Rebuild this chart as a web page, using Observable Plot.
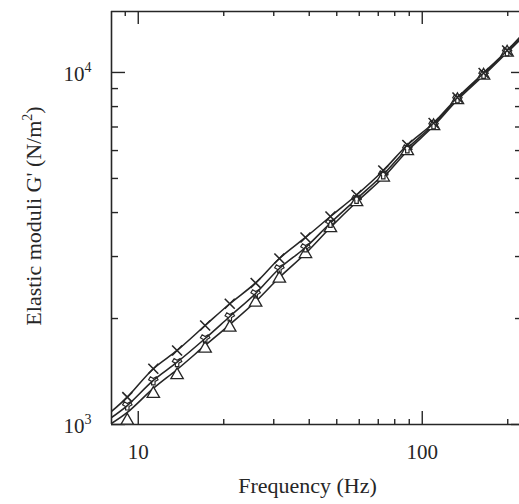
<!DOCTYPE html>
<html>
<head>
<meta charset="utf-8">
<script src="https://cdn.jsdelivr.net/npm/d3@7"></script>
<script src="https://cdn.jsdelivr.net/npm/@observablehq/plot@0.6"></script>
<style>
  html, body { margin: 0; padding: 0; background: #fff; }
  #chart svg { display: block; }
  #chart svg text { font-family: "Liberation Serif", "Times New Roman", "DejaVu Serif", serif; }
</style>
</head>
<body>
<div id="chart"></div>
<script>
// ---- data ----
const freq = [9.15, 11.3, 13.7, 17.2, 21.0, 25.9, 31.4, 38.8, 47.5, 58.7, 72.9, 88.6, 109.6, 133, 164.4, 199];
const gCross = [1196, 1440, 1623, 1911, 2203, 2524, 2962, 3398, 3898, 4487, 5268, 6223, 7185, 8490, 9967, 11548];
const gWye   = [1132, 1334, 1503, 1755, 2027, 2356, 2774, 3183, 3736, 4371, 5132, 6083, 7115, 8435, 9902, 11474];
const gTri   = [1026, 1223, 1382, 1644, 1886, 2221, 2599, 3051, 3616, 4286, 5032, 5984, 7046, 8353, 9806, 11398];

const lineFreq = [8.05, 9.15, 11.3, 13.7, 17.2, 21.0, 25.9, 31.4, 38.8, 47.5, 58.7, 72.9, 88.6, 109.6, 133, 164.4, 199, 220];
const lineTop = [1089, 1196, 1440, 1623, 1911, 2203, 2524, 2962, 3398, 3898, 4487, 5268, 6223, 7185, 8490, 9967, 11548, 12573];
const lineMid = [1047, 1132, 1334, 1503, 1755, 2027, 2356, 2774, 3183, 3736, 4371, 5132, 6083, 7115, 8435, 9902, 11474, 12452];
const lineBot = [1007, 1082, 1266, 1433, 1677, 1923, 2236, 2616, 3061, 3628, 4286, 5032, 5984, 7046, 8353, 9806, 11398, 12330];

const xDomain = [8.05, 220];
const yDomain = [1000, 14900];
const xMajor = [10, 100];
const xMinor = [9, 20, 30, 40, 50, 60, 70, 80, 90, 200];
const yMajor = [1000, 10000];
const yMinor = [2000, 3000, 4000, 5000, 6000, 7000, 8000, 9000];
const xTickLabels = ["10", "100"];
const yTickLabels = ["10^3", "10^4"];
const xTitle = "Frequency (Hz)";
const yTitle = "Elastic moduli G' (N/m^2)";

// ---- build tables ----
const markerRows = (vals, series) => freq.map((f, i) => ({f, g: vals[i], series}));
const lineRows = [
  ...lineFreq.map((f, i) => ({f, g: lineTop[i], series: "top"})),
  ...lineFreq.map((f, i) => ({f, g: lineMid[i], series: "mid"})),
  ...lineFreq.map((f, i) => ({f, g: lineBot[i], series: "bot"}))
];

const ink = "#262626";
const font = '"Liberation Serif", "Times New Roman", "DejaVu Serif", serif';
const W = 519, H = 504, mL = 111, mR = 0, mT = 11, mB = 80;
const fw = W - mL - mR, fh = H - mT - mB;

const chart = Plot.plot({
  width: W, height: H,
  marginLeft: mL, marginRight: mR, marginTop: mT, marginBottom: mB,
  style: {fontFamily: font, background: "#fff", color: ink, overflow: "visible"},
  x: {type: "log", domain: xDomain, axis: null},
  y: {type: "log", domain: yDomain, axis: null},
  marks: [
    // frame (left, bottom, top)
    Plot.ruleX([xDomain[0]], {stroke: ink, strokeWidth: 1.6}),
    Plot.ruleY([yDomain[0]], {stroke: ink, strokeWidth: 1.6}),
    Plot.ruleY([yDomain[1]], {stroke: ink, strokeWidth: 1.6}),
    // x ticks bottom/top (inward)
    Plot.tickX(xMajor, {x: d => d, insetTop: fh - 13, stroke: ink, strokeWidth: 1.4}),
    Plot.tickX(xMinor, {x: d => d, insetTop: fh - 5, stroke: ink, strokeWidth: 1.4}),
    Plot.tickX(xMajor, {x: d => d, insetBottom: fh - 13, stroke: ink, strokeWidth: 1.4}),
    Plot.tickX(xMinor, {x: d => d, insetBottom: fh - 5, stroke: ink, strokeWidth: 1.4}),
    // y ticks left/right (inward)
    Plot.tickY(yMajor, {y: d => d, insetRight: fw - 14, stroke: ink, strokeWidth: 1.4}),
    Plot.tickY(yMinor, {y: d => d, insetRight: fw - 7, stroke: ink, strokeWidth: 1.4}),
    Plot.tickY(yMajor, {y: d => d, insetLeft: fw - 8, stroke: ink, strokeWidth: 1.4}),
    Plot.tickY(yMinor, {y: d => d, insetLeft: fw - 4, stroke: ink, strokeWidth: 1.4}),
    // tick labels
    Plot.text(xMajor, {x: d => d, text: (d, i) => xTickLabels[i], frameAnchor: "bottom", dy: 34, fontSize: 21, fill: ink, fontFamily: font}),
    Plot.text(yMajor, {y: d => d, text: (d, i) => yTickLabels[i], frameAnchor: "left", textAnchor: "end", dx: -20, dy: 2, fontSize: 21, fill: ink, fontFamily: font}),
    // axis titles
    Plot.text([xTitle], {text: d => d, frameAnchor: "bottom", textAnchor: "middle", dx: -8, dy: 68, fontSize: 22, fill: ink, fontFamily: font}),
    Plot.text([yTitle], {text: d => d, frameAnchor: "left", textAnchor: "middle", rotate: -90, dx: -78, dy: -2, fontSize: 22, fill: ink, fontFamily: font}),
    // model lines
    Plot.line(lineRows, {x: "f", y: "g", z: "series", curve: "catmull-rom", stroke: ink, strokeWidth: 1.6, clip: true}),
    // data markers
    Plot.dot(markerRows(gTri, "tri"), {x: "f", y: "g", symbol: "triangle", r: 4.6, stroke: ink, fill: "#fff", strokeWidth: 1.3}),
    Plot.dot(markerRows(gWye, "wye"), {x: "f", y: "g", symbol: "wye", r: 3.6, stroke: ink, fill: "none", strokeWidth: 1.2}),
    Plot.dot(markerRows(gCross, "cross"), {x: "f", y: "g", symbol: "times", r: 4.6, stroke: ink, strokeWidth: 1.6})
  ]
});

// turn "^n" into real superscript tspans
chart.querySelectorAll("text").forEach(t => {
  const targets = t.querySelectorAll("tspan").length ? [...t.querySelectorAll("tspan")] : [t];
  targets.forEach(el => {
    const s = el.textContent;
    const m = s.match(/^(.*)\^(\d)(.*)$/);
    if (!m) return;
    const fs = parseFloat(el.getAttribute("font-size") || t.getAttribute("font-size") || 21);
    el.textContent = "";
    const ns = "http://www.w3.org/2000/svg";
    const a = document.createElementNS(ns, "tspan"); a.textContent = m[1];
    const b = document.createElementNS(ns, "tspan"); b.textContent = m[2];
    b.setAttribute("font-size", Math.round(fs * 0.68));
    b.setAttribute("dy", -Math.round(fs * 0.42));
    el.appendChild(a); el.appendChild(b);
    if (m[3]) {
      const c = document.createElementNS(ns, "tspan"); c.textContent = m[3];
      c.setAttribute("dy", Math.round(fs * 0.42));
      el.appendChild(c);
    }
  });
});

document.getElementById("chart").appendChild(chart);
</script>
</body>
</html>
